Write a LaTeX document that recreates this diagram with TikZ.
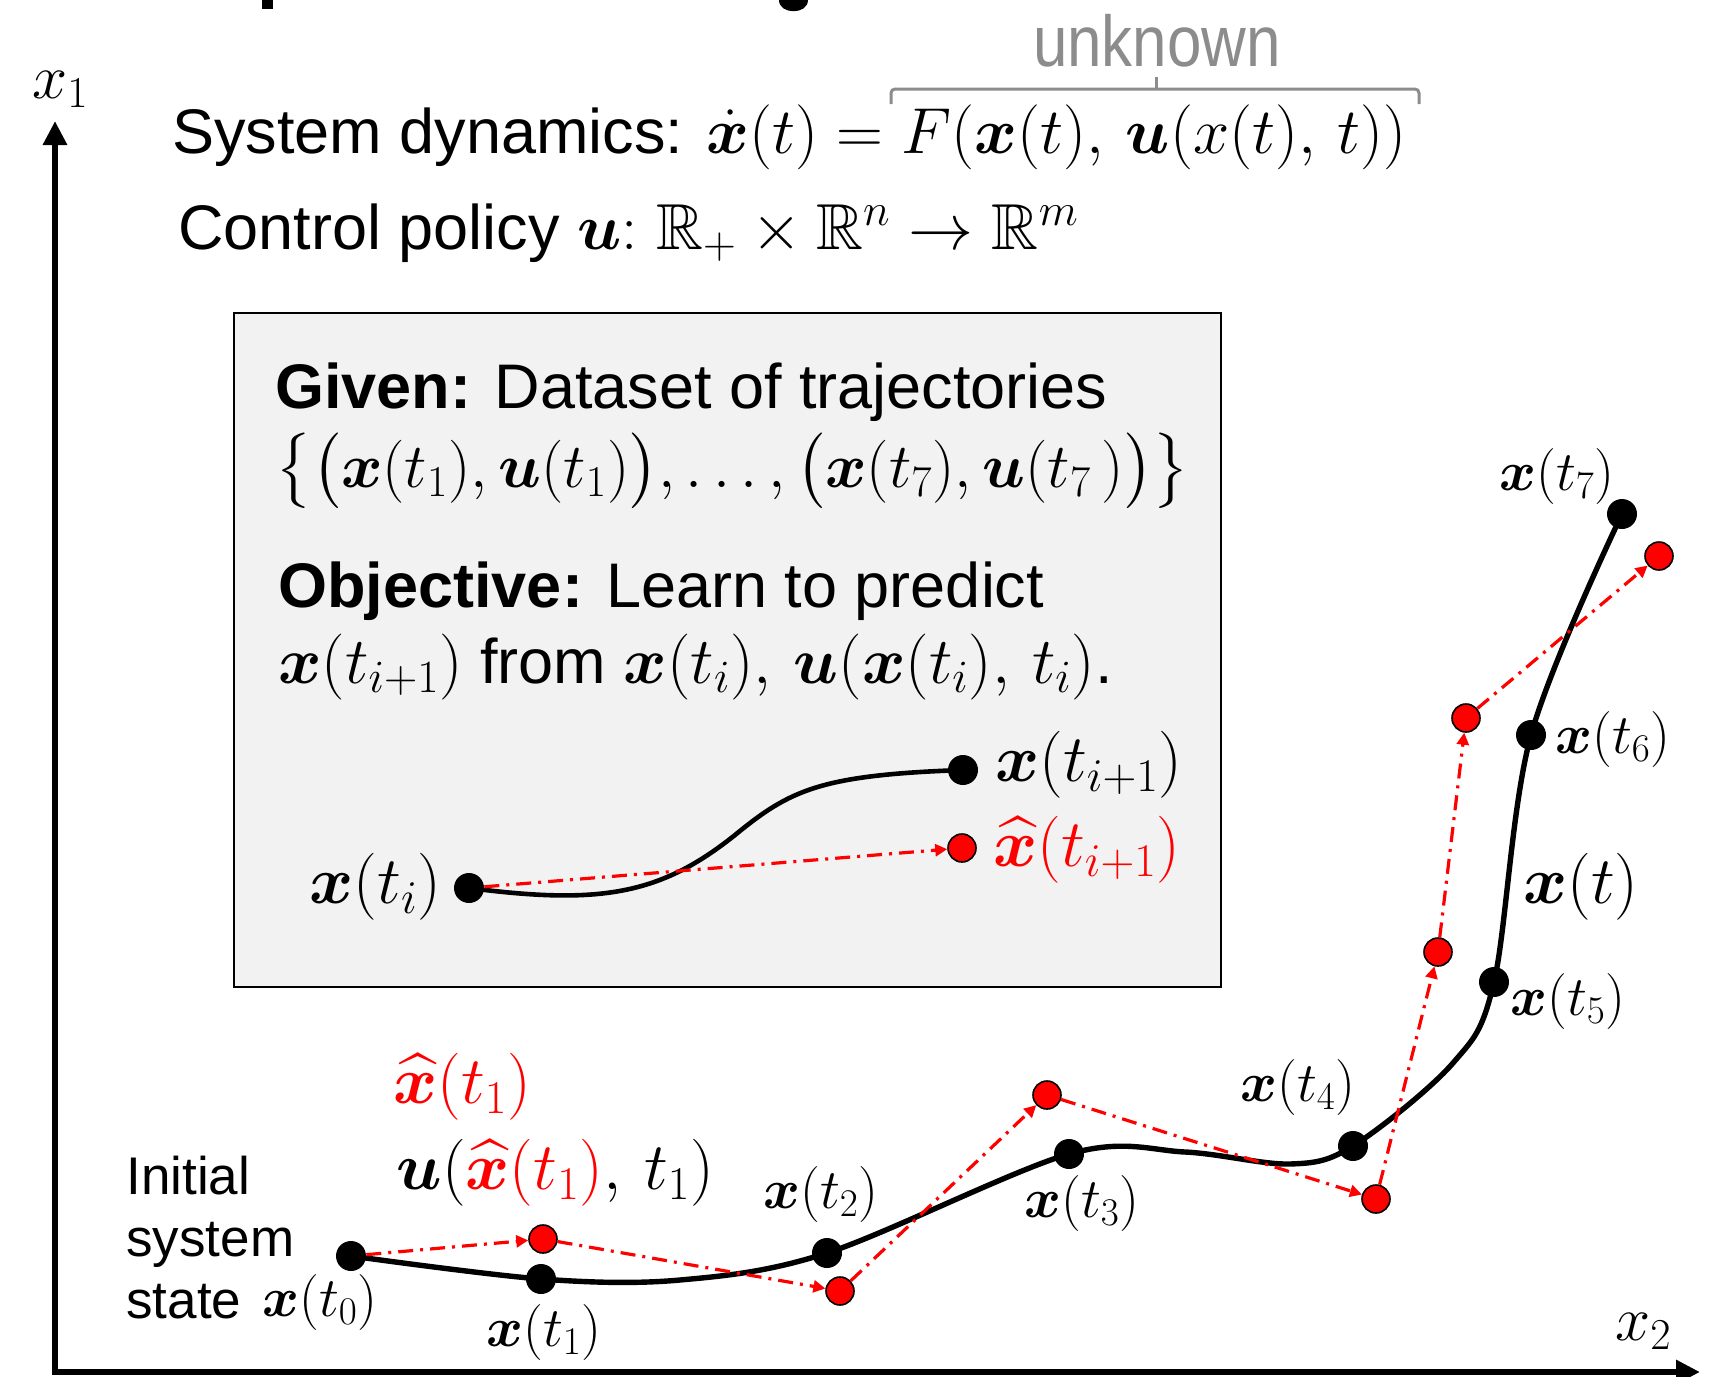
\RequirePackage{fix-cm}
\documentclass[tikz,border=0pt]{standalone}
\usepackage{amsmath,amssymb,bm}
\usepackage[no-math]{fontspec}
\setmainfont{Liberation Sans}
\usepackage{graphicx}
\usetikzlibrary{arrows.meta}
\definecolor{boxgray}{HTML}{F2F2F2}
\definecolor{ungray}{HTML}{8C8C8C}
\definecolor{myred}{HTML}{FF0000}
\newcommand{\fsmain}{\fontsize{31.5}{38}\selectfont}
\newcommand{\fsbig}{\fontsize{33.5}{40}\selectfont}
\newcommand{\fsmath}{\fontsize{33}{40}\selectfont}
\newcommand{\fshead}{\fontsize{32.5}{40}\selectfont}
\newcommand{\fslab}{\fontsize{28}{33}\selectfont}
\newcommand{\fstext}{\fontsize{26.5}{31.5}\selectfont}
\begin{document}
\begin{tikzpicture}[x=0.5pt,y=-0.5pt,
  blackdot/.style={circle, fill=black, inner sep=0pt, minimum size=15pt},
  reddot/.style={circle, fill=myred, draw=black, line width=0.8pt, inner sep=0pt, minimum size=14pt},
  traj/.style={line width=2.7pt, black},
  pred/.style={myred, line width=1.6pt, dash pattern=on 7.5pt off 3.5pt on 1.5pt off 3.5pt, -{Triangle[length=6pt,width=6pt]}},
  axisline/.style={line width=3pt},
  lab/.style={inner sep=0pt, font=\fslab},
  txt/.style={inner sep=0pt, font=\fstext},
  biglab/.style={inner sep=0pt, font=\fsmain},
  mathlab/.style={inner sep=0pt, font=\fsbig},
  bracket/.style={draw=ungray, line width=1.5pt, rounded corners=2pt}]
\useasboundingbox (0,0) rectangle (1710,1377);

% fragments of the cut-off title
\fill (262,0) rectangle (273,9);
\fill (779,0) .. controls (779,15) and (808,15) .. (808,0) -- cycle;

% axes
\coordinate (O) at (55,1372);
\coordinate (ytop) at (55,121);
\coordinate (xend) at (1700,1372);
\draw[axisline, {Triangle[length=12pt,width=11.5pt]}-{Triangle[length=12pt,width=11.5pt]}] (ytop) -- (O) -- (xend);
\node[biglab, anchor=base west] (x1) at (32,98) {$x_1$};
\node[biglab, anchor=base west] (x2) at (1615,1340) {$x_2$};

% header
\node[inner sep=0pt, anchor=base, text=ungray, font=\fontsize{36}{40}\selectfont] (unk) at (1157,66) {\scalebox{0.86}[1]{unknown}};
\draw[bracket] (891,104) -- (891,89) -- (1419,89) -- (1419,104);
\draw[draw=ungray, line width=1.5pt] (1156,89) -- (1156,77);
\node[biglab, anchor=base west] (sys) at (172,153) {System dynamics: {\fshead$\dot{\bm{x}}(t) = F(\bm{x}(t),\,\bm{u}(x(t),\,t))$}};
\node[biglab, anchor=base west] (pol) at (178,249) {Control policy {\fshead$\bm{u}{:}\ \mathbb{R}_+\times\mathbb{R}^n\to\mathbb{R}^m$}};

% box
\draw[fill=boxgray, line width=1pt] (234,313) rectangle (1221,987);
\node[biglab, anchor=base west] (given) at (275,408) {\textbf{Given:} Dataset of trajectories};
\node[biglab, anchor=base west] (data) at (275,487) {$\bigl\{\bigl(\bm{x}(t_1),\bm{u}(t_1)\bigr),\ldots,\bigl(\bm{x}(t_7),\bm{u}(t_7\,)\bigr)\bigr\}$};
\node[biglab, anchor=base west] (obj) at (278,607) {\textbf{Objective:} Learn to predict};
\node[biglab, anchor=base west] (obj2) at (278,683) {{\fsmath$\bm{x}(t_{i+1})$} from {\fsmath$\bm{x}(t_i),\,\bm{u}(\bm{x}(t_i),\,t_i)$}.};

% inner sketch
\node[blackdot] (xi) at (469,888) {};
\node[blackdot] (xip) at (963,770) {};
\node[reddot] (xh) at (962,848) {};
\draw[line width=2.3pt] (xi.center) .. controls (600,905) and (660,895) .. (735,835) .. controls (790,790) and (820,775) .. (xip.center);
\draw[pred] (xi) -- (xh);
\node[mathlab, anchor=base east] (lxi) at (442,903) {$\bm{x}(t_i)$};
\node[mathlab, anchor=base west] (lxip) at (995,781) {$\bm{x}(t_{i+1})$};
\node[mathlab, anchor=base west, text=myred] (lxh) at (993,866) {$\widehat{\bm{x}}(t_{i+1})$};

% trajectory points
\node[blackdot] (t0) at (351,1256) {};
\node[blackdot] (t1) at (541,1279) {};
\node[blackdot] (t2) at (827,1253) {};
\node[blackdot] (t3) at (1069,1154) {};
\node[blackdot] (t4) at (1353,1146) {};
\node[blackdot] (t5) at (1494,982) {};
\node[blackdot] (t6) at (1531,735) {};
\node[blackdot] (t7) at (1622,514) {};
\coordinate (c1) at (680,1280);
\coordinate (c2) at (1185,1152);
\coordinate (c3) at (1290,1164);
\coordinate (c5) at (1453,1063);
\draw[traj] plot[smooth, tension=0.55] coordinates {(t0.center) (t1.center) (c1) (t2.center) (t3.center) (c2) (c3) (t4.center) (c5) (t5.center) (t6.center) (t7.center)};

% predictions
\node[reddot] (r1) at (543,1239) {};
\node[reddot] (r2) at (840,1291) {};
\node[reddot] (r3) at (1047,1095) {};
\node[reddot] (r4) at (1376,1199) {};
\node[reddot] (r5) at (1438,952) {};
\node[reddot] (r6) at (1466,718) {};
\node[reddot] (r7) at (1659,556) {};
\draw[pred] (t0) -- (r1);
\draw[pred] (r1) -- (r2);
\draw[pred] (r2) -- (r3);
\draw[pred] (r3) -- (r4);
\draw[pred] (r4) -- (r5);
\draw[pred] (r5) -- (r6);
\draw[pred] (r6) -- (r7);

% labels
\node[txt, anchor=base west] (init1) at (126,1194) {Initial};
\node[txt, anchor=base west] (init2) at (126,1256) {system};
\node[txt, anchor=base west] (init3) at (126,1318) {state};
\node[lab, anchor=base west] (l0) at (262,1316) {$\bm{x}(t_0)$};
\node[lab, anchor=base] (l1) at (544,1346) {$\bm{x}(t_1)$};
\node[lab, anchor=base] (l2) at (821,1208) {$\bm{x}(t_2)$};
\node[lab, anchor=base] (l3) at (1082,1217) {$\bm{x}(t_3)$};
\node[lab, anchor=base] (l4) at (1298,1101) {$\bm{x}(t_4)$};
\node[lab, anchor=base west] (l5) at (1510,1015) {$\bm{x}(t_5)$};
\node[lab, anchor=base west] (l6) at (1555,753) {$\bm{x}(t_6)$};
\node[lab, anchor=base east] (l7) at (1615,490) {$\bm{x}(t_7)$};
\node[mathlab, anchor=base west] (lxt) at (1523,903) {$\bm{x}(t)$};
\node[mathlab, anchor=base west, text=myred] (lh1) at (393,1103) {$\widehat{\bm{x}}(t_1)$};
\node[mathlab, anchor=base west] (lu1) at (396,1189) {$\bm{u}(\textcolor{myred}{\widehat{\bm{x}}(t_1)},\,t_1)$};
\end{tikzpicture}
\end{document}
